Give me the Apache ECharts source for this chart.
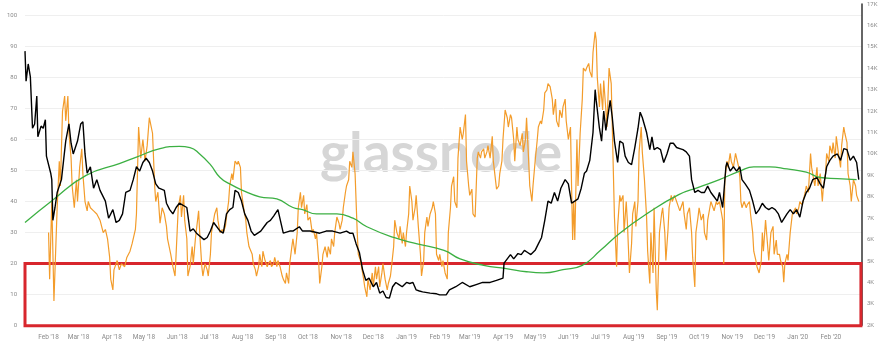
<!DOCTYPE html>
<html>
<head>
<meta charset="utf-8">
<script src="https://cdn.jsdelivr.net/npm/echarts@6/dist/echarts.min.js"></script>
<style>
  html, body { margin: 0; padding: 0; background: #fff; }
  #chart { width: 883px; height: 350px; }
</style>
</head>
<body>
<div id="chart"></div>
<script>
// month ticks on the x axis
var monthTicks = ['2018-02-01','2018-03-01','2018-04-01','2018-05-01','2018-06-01','2018-07-01','2018-08-01',
  '2018-09-01','2018-10-01','2018-11-01','2018-12-01','2019-01-01','2019-02-01','2019-03-01','2019-04-01',
  '2019-05-01','2019-06-01','2019-07-01','2019-08-01','2019-09-01','2019-10-01','2019-11-01','2019-12-01',
  '2020-01-01','2020-02-01'];
var monthNames = ['Jan','Feb','Mar','Apr','May','Jun','Jul','Aug','Sep','Oct','Nov','Dec'];

// left axis indicator (0-100), orange
var indicator = [
  ['2018-02-01',30],['2018-02-02',15],['2018-02-04',40],['2018-02-06',8],['2018-02-09',38],['2018-02-11',53],['2018-02-12',45],['2018-02-14',69],['2018-02-16',74],['2018-02-17',66],['2018-02-19',74],['2018-02-20',62],['2018-02-22',54],['2018-02-23',45],['2018-02-25',38],['2018-02-27',47],['2018-02-28',40],
  ['2018-03-02',51],['2018-03-04',57],['2018-03-05',49],['2018-03-07',40],['2018-03-09',37],['2018-03-10',40],['2018-03-12',38],['2018-03-15',37],['2018-03-18',36],['2018-03-21',34],['2018-03-24',30],['2018-03-26',31],['2018-03-28',28],['2018-03-30',22],['2018-03-31',15],
  ['2018-04-02',11.5],['2018-04-03',18],['2018-04-06',21],['2018-04-08',18],['2018-04-10',20],['2018-04-13',19],['2018-04-15',22],['2018-04-18',24],['2018-04-20',26.5],['2018-04-23',31],['2018-04-24',36],['2018-04-26',64],['2018-04-28',54],['2018-04-30',60],
  ['2018-05-02',53],['2018-05-04',58],['2018-05-06',67],['2018-05-09',62],['2018-05-11',45],['2018-05-12',40],['2018-05-14',43],['2018-05-16',33],['2018-05-18',38],['2018-05-20',36],['2018-05-22',32],['2018-05-23',28],['2018-05-26',23],['2018-05-28',19],['2018-05-30',16],['2018-05-31',23],
  ['2018-06-02',38],['2018-06-04',42],['2018-06-05',35],['2018-06-07',42],['2018-06-08',34],['2018-06-10',28],['2018-06-11',16],['2018-06-13',19],['2018-06-15',25.5],['2018-06-16',20],['2018-06-18',28],['2018-06-19',31],['2018-06-21',37],['2018-06-22',30],['2018-06-24',19],['2018-06-25',16],['2018-06-27',20],['2018-06-29',18],['2018-06-30',16],
  ['2018-07-02',23],['2018-07-03',30],['2018-07-05',34],['2018-07-06',36],['2018-07-08',38],['2018-07-09',34],['2018-07-11',30],['2018-07-13',31],['2018-07-14',30],['2018-07-16',32],['2018-07-17',35],['2018-07-19',40],['2018-07-20',45],['2018-07-22',49],['2018-07-23',47],['2018-07-25',53],['2018-07-27',52],['2018-07-28',53],['2018-07-30',51],['2018-07-31',43],
  ['2018-08-02',38],['2018-08-04',34],['2018-08-05',30],['2018-08-07',25.5],['2018-08-10',23],['2018-08-11',20],['2018-08-13',18],['2018-08-14',16],['2018-08-16',19],['2018-08-17',23],['2018-08-19',19],['2018-08-20',24],['2018-08-22',21],['2018-08-24',19],['2018-08-25',20],['2018-08-27',21],['2018-08-28',19],['2018-08-30',20],['2018-08-31',22],
  ['2018-09-02',19],['2018-09-03',21],['2018-09-05',19],['2018-09-07',16],['2018-09-08',15],['2018-09-10',13.6],['2018-09-11',17],['2018-09-13',13.6],['2018-09-14',20],['2018-09-16',25.5],['2018-09-17',28],['2018-09-19',23],['2018-09-21',30],['2018-09-22',38],['2018-09-24',43],['2018-09-25',38],['2018-09-27',42],['2018-09-28',36],['2018-09-30',39],
  ['2018-10-01',34],['2018-10-03',35],['2018-10-05',30],['2018-10-06',31],['2018-10-08',28],['2018-10-09',30],['2018-10-11',21],['2018-10-12',13.6],['2018-10-14',19],['2018-10-15',23],['2018-10-17',25.5],['2018-10-19',22],['2018-10-20',25.5],['2018-10-22',23],['2018-10-23',28],['2018-10-25',25.5],['2018-10-26',30],['2018-10-28',35],['2018-10-30',33],['2018-10-31',31],
  ['2018-11-02',34],['2018-11-03',38],['2018-11-05',43],['2018-11-06',45],['2018-11-08',47],['2018-11-09',53],['2018-11-11',51],['2018-11-12',56],['2018-11-14',49],['2018-11-16',30],['2018-11-17',23],['2018-11-19',21],['2018-11-20',19],['2018-11-22',15],['2018-11-23',12.5],['2018-11-25',9.3],['2018-11-26',15],['2018-11-28',11.5],['2018-11-30',17],
  ['2018-12-01',12.5],['2018-12-03',19],['2018-12-04',15],['2018-12-06',19],['2018-12-07',12.5],['2018-12-09',17],['2018-12-10',20],['2018-12-12',15],['2018-12-14',11.5],['2018-12-15',13.6],['2018-12-17',16],['2018-12-18',19],['2018-12-20',25.5],['2018-12-21',34],['2018-12-23',30],['2018-12-25',28],['2018-12-26',32],['2018-12-28',26.5],['2018-12-29',30],['2018-12-31',25.5],
  ['2019-01-01',30],['2019-01-03',36],['2019-01-04',45],['2019-01-06',40],['2019-01-07',34],['2019-01-09',38],['2019-01-10',42],['2019-01-12',32],['2019-01-14',23],['2019-01-15',16],['2019-01-17',21],['2019-01-18',30],['2019-01-20',35],['2019-01-21',32],['2019-01-23',36],['2019-01-25',38],['2019-01-26',40],['2019-01-28',36],['2019-01-29',23],['2019-01-31',21],
  ['2019-02-01',23],['2019-02-03',19],['2019-02-04',21],['2019-02-06',17],['2019-02-08',15],['2019-02-09',30],['2019-02-11',38],['2019-02-12',45],['2019-02-14',48],['2019-02-15',40],['2019-02-17',38],['2019-02-18',54],['2019-02-20',64],['2019-02-22',60],['2019-02-23',62],['2019-02-25',68],['2019-02-26',53],['2019-02-28',45],
  ['2019-03-01',42],['2019-03-03',44],['2019-03-04',36],['2019-03-06',35],['2019-03-08',54],['2019-03-09',56],['2019-03-11',54],['2019-03-12',56],['2019-03-14',57],['2019-03-15',54],['2019-03-17',56],['2019-03-18',58],['2019-03-20',54],['2019-03-22',61],['2019-03-23',53],['2019-03-25',47],['2019-03-26',44],['2019-03-28',45],['2019-03-29',49],['2019-03-31',53],
  ['2019-04-01',60],['2019-04-03',69.5],['2019-04-05',67],['2019-04-06',64],['2019-04-08',68],['2019-04-09',67],['2019-04-11',60],['2019-04-12',53],['2019-04-14',64],['2019-04-15',60],['2019-04-17',58],['2019-04-19',62],['2019-04-20',56],['2019-04-22',60],['2019-04-23',67],['2019-04-25',53],['2019-04-26',45],['2019-04-28',40],['2019-04-29',45],
  ['2019-05-01',53],['2019-05-03',60],['2019-05-04',64],['2019-05-06',66],['2019-05-07',65],['2019-05-09',69.5],['2019-05-10',75],['2019-05-12',76],['2019-05-13',78],['2019-05-15',77],['2019-05-17',73],['2019-05-18',68],['2019-05-20',73],['2019-05-21',66],['2019-05-23',64],['2019-05-24',69.5],['2019-05-26',67],['2019-05-27',70.5],['2019-05-29',73],['2019-05-30',66],
  ['2019-06-01',60],['2019-06-03',64],['2019-06-04',45],['2019-06-05',27.6],['2019-06-06',40],['2019-06-07',27.6],['2019-06-09',60],['2019-06-10',45],['2019-06-12',62],['2019-06-14',73],['2019-06-15',83],['2019-06-17',82],['2019-06-18',83],['2019-06-20',84.5],['2019-06-21',82],['2019-06-23',80],['2019-06-24',88],['2019-06-26',94.7],['2019-06-27',92],['2019-06-28',80],['2019-06-30',70.5],
  ['2019-07-01',78],['2019-07-03',69.5],['2019-07-04',79],['2019-07-06',69.5],['2019-07-07',64],['2019-07-09',83],['2019-07-11',78],['2019-07-12',64],['2019-07-14',35],['2019-07-16',19],['2019-07-17',32],['2019-07-19',42],['2019-07-20',40],['2019-07-22',42],['2019-07-23',30],['2019-07-25',40],['2019-07-26',34],['2019-07-28',17],['2019-07-30',26.5],['2019-07-31',36],
  ['2019-08-02',40],['2019-08-03',32],['2019-08-05',40],['2019-08-06',56],['2019-08-08',64],['2019-08-09',56],['2019-08-11',47],['2019-08-13',35],['2019-08-14',24],['2019-08-16',13.6],['2019-08-17',30],['2019-08-19',17],['2019-08-20',38],['2019-08-22',11.5],['2019-08-23',5],['2019-08-25',30],['2019-08-27',36],['2019-08-28',38],['2019-08-30',30],['2019-08-31',21],
  ['2019-09-02',31],['2019-09-03',38],['2019-09-05',42],['2019-09-06',40],['2019-09-08',42],['2019-09-10',40],['2019-09-11',39],['2019-09-13',37],['2019-09-14',38],['2019-09-16',40],['2019-09-17',36],['2019-09-19',31],['2019-09-20',36],['2019-09-22',38],['2019-09-24',30],['2019-09-25',22],['2019-09-27',12.5],['2019-09-28',30],['2019-09-30',35],
  ['2019-10-01',38],['2019-10-03',34],['2019-10-05',36],['2019-10-06',30],['2019-10-08',27.6],['2019-10-09',34],['2019-10-11',38],['2019-10-12',40],['2019-10-14',38],['2019-10-15',37],['2019-10-17',40],['2019-10-18',39],['2019-10-20',40],['2019-10-22',36],['2019-10-23',34],['2019-10-24',20],['2019-10-25',47],['2019-10-27',53],['2019-10-28',51],['2019-10-30',55.5],['2019-10-31',53],
  ['2019-11-02',51],['2019-11-04',55.5],['2019-11-05',55.5],['2019-11-07',51],['2019-11-08',48],['2019-11-09',40],['2019-11-10',38],['2019-11-12',40],['2019-11-14',38],['2019-11-15',39],['2019-11-17',40],['2019-11-18',36],['2019-11-20',30],['2019-11-21',24],['2019-11-23',21],['2019-11-24',19],['2019-11-26',17],['2019-11-28',21],['2019-11-29',30],['2019-11-30',24],
  ['2019-12-02',34],['2019-12-04',25.5],['2019-12-05',21],['2019-12-07',30],['2019-12-09',32],['2019-12-10',23],['2019-12-12',27.6],['2019-12-13',23],['2019-12-15',23],['2019-12-16',21],['2019-12-18',19],['2019-12-19',14],['2019-12-20',20],['2019-12-22',23],['2019-12-23',21],['2019-12-25',30],['2019-12-27',36],['2019-12-28',36],['2019-12-30',38],['2019-12-31',36],
  ['2020-01-02',38],['2020-01-03',40],['2020-01-05',39],['2020-01-06',40],['2020-01-08',43],['2020-01-09',45],['2020-01-11',43],['2020-01-13',55.5],['2020-01-14',51],['2020-01-16',47],['2020-01-17',45],['2020-01-19',51],['2020-01-20',45],['2020-01-22',49],['2020-01-24',40],['2020-01-25',45],['2020-01-27',49],['2020-01-28',55.5],['2020-01-30',53],['2020-01-31',58],
  ['2020-02-02',55.5],['2020-02-03',59],['2020-02-05',54],['2020-02-06',61],['2020-02-08',55.5],['2020-02-10',51],['2020-02-11',58],['2020-02-13',64],['2020-02-14',62],['2020-02-16',59],['2020-02-17',49],['2020-02-19',45],['2020-02-20',40],['2020-02-22',47],['2020-02-24',45],['2020-02-25',42],['2020-02-27',40]
];

// price in thousand USD (right axis), black
var price = [
  ['2018-01-10',14.8],['2018-01-11',13.4],['2018-01-13',14.2],['2018-01-15',13.6],['2018-01-17',11.2],['2018-01-19',11.4],['2018-01-21',12.7],['2018-01-22',10.8],['2018-01-25',11.3],['2018-01-27',11.2],['2018-01-29',11.6],['2018-01-30',9.9],
  ['2018-02-03',9.1],['2018-02-04',8.8],['2018-02-05',6.9],['2018-02-07',7.5],['2018-02-09',8.2],['2018-02-13',8.8],['2018-02-15',9.7],['2018-02-17',10.6],['2018-02-20',11.4],['2018-02-22',10.5],['2018-02-24',10.0],['2018-02-26',10.3],['2018-02-28',10.6],
  ['2018-03-03',11.4],['2018-03-05',11.5],['2018-03-07',10.0],['2018-03-09',9.1],['2018-03-12',9.4],['2018-03-15',8.4],['2018-03-18',8.8],['2018-03-21',8.3],['2018-03-26',7.8],['2018-03-29',7.0],
  ['2018-04-02',7.4],['2018-04-05',6.8],['2018-04-08',6.9],['2018-04-11',7.2],['2018-04-14',8.2],['2018-04-18',8.3],['2018-04-21',8.8],['2018-04-24',9.4],['2018-04-27',9.2],['2018-04-30',9.6],
  ['2018-05-03',9.8],['2018-05-06',9.6],['2018-05-09',9.2],['2018-05-12',8.6],['2018-05-15',8.4],['2018-05-20',8.3],['2018-05-22',7.7],['2018-05-25',7.4],['2018-05-28',7.2],['2018-05-31',7.5],
  ['2018-06-03',7.7],['2018-06-10',7.5],['2018-06-13',6.4],['2018-06-16',6.5],['2018-06-19',6.3],['2018-06-26',6.0],['2018-06-29',6.1],
  ['2018-07-02',6.4],['2018-07-05',6.8],['2018-07-11',6.4],['2018-07-14',6.3],['2018-07-17',7.2],['2018-07-20',7.4],['2018-07-23',7.5],['2018-07-25',8.3],['2018-07-28',8.2],['2018-07-31',7.8],
  ['2018-08-03',7.2],['2018-08-06',6.9],['2018-08-09',6.4],['2018-08-12',6.2],['2018-08-18',6.4],['2018-08-21',6.6],['2018-08-24',6.8],['2018-08-27',6.9],['2018-08-30',7.1],
  ['2018-09-03',7.4],['2018-09-08',6.3],['2018-09-14',6.4],['2018-09-17',6.4],['2018-09-23',6.6],['2018-09-26',6.4],
  ['2018-10-03',6.4],['2018-10-12',6.3],['2018-10-18',6.4],['2018-10-24',6.4],['2018-10-31',6.3],
  ['2018-11-06',6.4],['2018-11-09',6.3],['2018-11-12',6.3],['2018-11-15',5.8],['2018-11-18',5.4],['2018-11-21',4.6],['2018-11-24',4.1],['2018-11-27',4.2],
  ['2018-12-01',3.8],['2018-12-04',4.0],['2018-12-07',3.5],['2018-12-10',3.6],['2018-12-13',3.3],['2018-12-16',3.27],['2018-12-19',3.8],['2018-12-22',4.0],['2018-12-25',3.9],['2018-12-28',3.8],
  ['2019-01-01',4.0],['2019-01-04',3.95],['2019-01-07',4.0],['2019-01-10',3.65],['2019-01-13',3.6],['2019-01-16',3.56],['2019-01-23',3.5],['2019-01-29',3.47],
  ['2019-02-01',3.42],['2019-02-07',3.42],['2019-02-10',3.65],['2019-02-16',3.8],['2019-02-22',4.0],
  ['2019-03-01',3.8],['2019-03-07',3.9],['2019-03-13',4.0],['2019-03-20',4.0],['2019-03-26',4.1],
  ['2019-04-01',4.2],['2019-04-02',4.9],['2019-04-05',5.1],['2019-04-08',5.3],['2019-04-11',5.1],['2019-04-15',5.35],['2019-04-18',5.3],['2019-04-21',5.5],['2019-04-24',5.4],['2019-04-27',5.3],
  ['2019-05-01',5.5],['2019-05-04',5.8],['2019-05-07',6.1],['2019-05-10',6.9],['2019-05-13',7.8],['2019-05-16',7.7],['2019-05-19',8.2],['2019-05-22',7.8],['2019-05-25',8.4],['2019-05-29',8.8],
  ['2019-06-01',8.6],['2019-06-04',7.7],['2019-06-07',7.8],['2019-06-10',7.9],['2019-06-13',8.4],['2019-06-16',9.1],['2019-06-18',9.2],['2019-06-21',9.7],['2019-06-24',11.0],['2019-06-26',13.0],['2019-06-27',12.5],['2019-06-30',11.2],
  ['2019-07-02',10.6],['2019-07-04',12.0],['2019-07-06',11.1],['2019-07-10',12.5],['2019-07-12',11.7],['2019-07-14',10.6],['2019-07-17',9.6],['2019-07-19',10.6],['2019-07-22',10.5],['2019-07-24',9.9],['2019-07-27',9.6],['2019-07-30',9.5],
  ['2019-08-02',10.3],['2019-08-05',11.2],['2019-08-07',11.95],['2019-08-09',11.7],['2019-08-13',11.0],['2019-08-16',10.2],['2019-08-18',10.8],['2019-08-20',10.2],['2019-08-23',10.3],['2019-08-26',10.2],['2019-08-29',9.6],
  ['2019-09-01',10.0],['2019-09-04',10.5],['2019-09-07',10.5],['2019-09-10',10.3],['2019-09-13',10.25],['2019-09-16',10.2],['2019-09-19',10.1],['2019-09-22',9.9],['2019-09-24',8.8],['2019-09-27',8.2],['2019-09-30',8.3],
  ['2019-10-03',8.2],['2019-10-06',8.2],['2019-10-09',8.5],['2019-10-12',8.2],['2019-10-15',8.0],['2019-10-18',7.8],['2019-10-20',8.2],['2019-10-23',7.5],['2019-10-26',9.4],['2019-10-27',9.6],['2019-10-30',9.2],
  ['2019-11-02',9.4],['2019-11-05',9.2],['2019-11-08',9.4],['2019-11-10',8.8],['2019-11-13',8.6],['2019-11-17',8.3],['2019-11-20',7.8],['2019-11-23',7.2],['2019-11-26',7.4],['2019-11-29',7.7],
  ['2019-12-02',7.5],['2019-12-05',7.4],['2019-12-08',7.5],['2019-12-11',7.4],['2019-12-14',7.2],['2019-12-17',6.8],['2019-12-22',7.2],['2019-12-25',7.4],['2019-12-28',7.2],['2019-12-31',7.4],
  ['2020-01-03',7.05],['2020-01-06',7.8],['2020-01-09',8.2],['2020-01-12',8.4],['2020-01-15',8.8],['2020-01-19',8.9],['2020-01-22',8.6],['2020-01-25',8.4],['2020-01-28',9.4],['2020-01-31',9.7],
  ['2020-02-03',9.9],['2020-02-07',10.0],['2020-02-10',9.7],['2020-02-13',10.25],['2020-02-16',10.2],['2020-02-19',9.7],['2020-02-22',9.9],['2020-02-25',9.6],['2020-02-27',8.8]
];

// moving average of price (right axis), green
var priceMA = [
  ['2018-01-10',6.8],['2018-02-05',7.85],['2018-03-08',9.0],['2018-04-08',9.55],['2018-04-24',9.85],['2018-05-16',10.25],
  ['2018-06-03',10.35],['2018-06-13',10.3],['2018-06-22',10.0],['2018-07-02',9.5],['2018-07-11',8.9],['2018-07-20',8.6],
  ['2018-08-01',8.3],['2018-08-17',8.0],['2018-09-02',7.9],['2018-09-17',7.5],['2018-09-26',7.4],['2018-10-09',7.2],
  ['2018-10-28',7.2],['2018-11-12',7.0],['2018-11-25',6.6],['2018-12-20',6.1],['2019-01-11',5.8],['2019-02-05',5.5],
  ['2019-02-20',5.1],['2019-03-14',4.8],['2019-04-04',4.65],['2019-04-23',4.5],['2019-05-09',4.45],['2019-05-27',4.6],
  ['2019-06-14',4.8],['2019-07-01',5.5],['2019-07-19',6.3],['2019-08-13',7.2],['2019-09-12',8.1],['2019-10-01',8.45],
  ['2019-10-20',8.8],['2019-11-08',9.2],['2019-11-21',9.4],['2019-12-06',9.4],['2019-12-22',9.3],['2020-01-09',9.15],
  ['2020-01-22',8.9],['2020-02-07',8.85],['2020-02-25',8.8]
];

var axisStart = '2018-01-10';
var axisEnd = '2020-03-01';
var zoneEnd = '2020-02-29';
var zoneTop = 20;   // red box: indicator 0-20

function ts(s) { return +echarts.time.parse(s); }
function toXY(arr) { return arr.map(function (p) { return [ts(p[0]), p[1]]; }); }

function monthLabel(v) {
  var d = new Date(v);
  return monthNames[d.getMonth()] + " '" + String(d.getFullYear()).slice(2);
}

var chart = echarts.init(document.getElementById('chart'));

var tickTimes = monthTicks.map(ts);

option = {
  animation: false,
  backgroundColor: '#fff',
  graphic: [{
    type: 'text',
    z: 0,
    silent: true,
    style: {
      x: 441, y: 154,
      text: 'glassnode',
      textAlign: 'center',
      textVerticalAlign: 'middle',
      fill: '#d6d6d6',
      font: 'bold 55px Lato'
    }
  }],
  grid: [
    { left: 25, right: 21, top: 15.3, bottom: 24.3 },
    { left: 25, right: 21, top: 4, bottom: 24.7 }
  ],
  xAxis: [{
    type: 'value',
    gridIndex: 0,
    min: ts(axisStart),
    max: ts(axisEnd),
    axisLine: { show: false },
    axisTick: { show: false },
    splitLine: { show: false },
    axisLabel: {
      customValues: tickTimes,
      formatter: monthLabel,
      margin: 8,
      color: '#8a8a8a',
      fontSize: 6.5,
      fontFamily: 'Roboto',
      hideOverlap: false
    }
  }, {
    type: 'value',
    gridIndex: 1,
    min: ts(axisStart),
    max: ts(axisEnd),
    show: false
  }],
  yAxis: [{
    type: 'value',
    gridIndex: 0,
    min: 0,
    max: 100,
    interval: 10,
    axisLine: { show: false },
    axisTick: { show: false },
    splitLine: { lineStyle: { color: '#efefef', width: 1 } },
    axisLabel: { margin: 8, fontSize: 6, color: '#8a8a8a', fontFamily: 'Roboto' }
  }, {
    type: 'value',
    gridIndex: 1,
    position: 'right',
    min: 2,
    max: 17,
    interval: 1,
    axisLine: { show: true, lineStyle: { color: '#333', width: 1.5 } },
    axisTick: { show: false },
    splitLine: { show: false },
    axisLabel: { margin: 5, fontSize: 6, color: '#8a8a8a', fontFamily: 'Roboto',
      formatter: function (v) { return v + 'K'; } }
  }],
  series: [{
    name: 'indicator',
    type: 'line',
    xAxisIndex: 0,
    yAxisIndex: 0,
    data: toXY(indicator),
    showSymbol: false,
    lineStyle: { color: '#f39c2b', width: 1.2 },
    z: 2
  }, {
    name: 'price MA',
    type: 'line',
    xAxisIndex: 1,
    yAxisIndex: 1,
    data: toXY(priceMA),
    smooth: true,
    showSymbol: false,
    lineStyle: { color: '#3cb043', width: 1.3 },
    z: 3
  }, {
    name: 'price',
    type: 'line',
    xAxisIndex: 1,
    yAxisIndex: 1,
    data: toXY(price),
    showSymbol: false,
    lineStyle: { color: '#000', width: 1.4 },
    z: 4
  }, {
    name: 'zone',
    type: 'line',
    xAxisIndex: 0,
    yAxisIndex: 0,
    data: [],
    z: 6,
    markArea: {
      silent: true,
      itemStyle: { color: 'rgba(0,0,0,0)', borderColor: '#d8262d', borderWidth: 3 },
      data: [[{ xAxis: ts(axisStart), yAxis: zoneTop }, { xAxis: ts(zoneEnd), yAxis: 0 }]]
    }
  }]
};

chart.setOption(option);
</script>
</body>
</html>
